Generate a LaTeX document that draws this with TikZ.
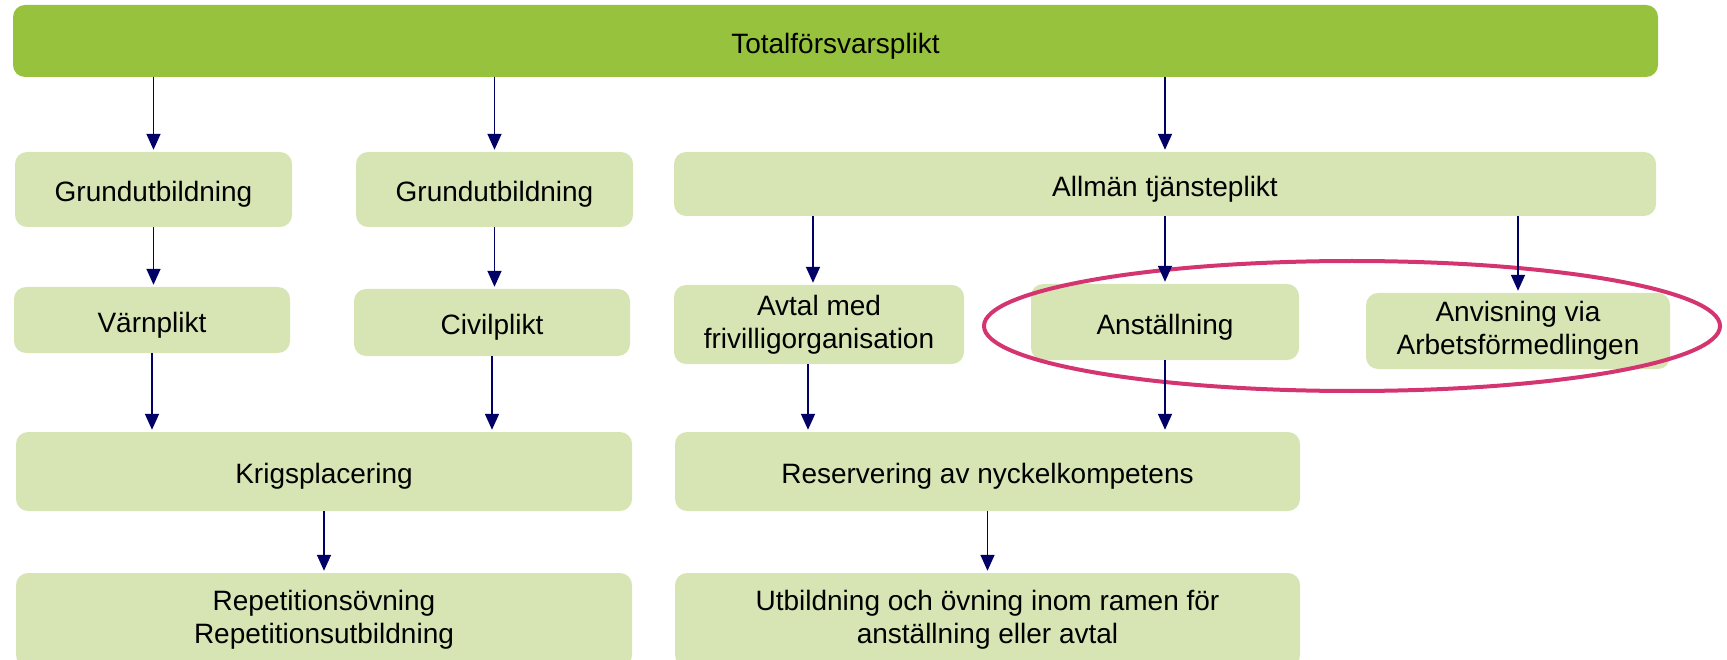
\documentclass[tikz,border=0pt]{standalone}
\usepackage{fontspec}
\setmainfont{Liberation Sans}
\usetikzlibrary{arrows.meta}
\definecolor{morkgron}{RGB}{151,194,62}
\definecolor{ljusgron}{RGB}{214,229,179}
\definecolor{marin}{RGB}{0,0,102}
\definecolor{rosa}{RGB}{212,52,112}
\tikzset{
    ruta/.style={fill=ljusgron, rounded corners=12pt, align=center, inner sep=0pt,
        font=\fontsize{28}{33}\selectfont, execute at begin node={\rule{0pt}{30pt}}},
    pil/.style={draw=marin, line width=1.6pt, -{Triangle[length=16pt,width=14pt]}, shorten >=2pt},
}
\begin{document}
\begin{tikzpicture}[x=1pt,y=-1pt]
            \useasboundingbox (0,0) rectangle (1727,660);
            \node[ruta, fill=morkgron, minimum width=1645pt, minimum height=72pt] (totalt) at (835.5,41) {Totalförsvarsplikt};
            \node[ruta, minimum width=277pt, minimum height=75pt] (grund1) at (153.5,189.5) {Grundutbildning};
            \node[ruta, minimum width=277pt, minimum height=75pt] (grund2) at (494.5,189.5) {Grundutbildning};
            \node[ruta, minimum width=982pt, minimum height=64pt] (allman) at (1165,184) {Allmän tjänsteplikt};
            \node[ruta, minimum width=276pt, minimum height=66pt] (varn) at (152,320) {Värnplikt};
            \node[ruta, minimum width=276pt, minimum height=67pt] (civil) at (492,322.5) {Civilplikt};
            \node[ruta, minimum width=290pt, minimum height=79pt] (avtal) at (819,324.5) {Avtal med\\frivilligorganisation};
            \node[ruta, minimum width=268pt, minimum height=76pt] (anst) at (1165,322) {Anställning};
            \node[ruta, minimum width=304pt, minimum height=76pt] (anvis) at (1518,331) {Anvisning via\\Arbetsförmedlingen};
            \node[ruta, minimum width=616pt, minimum height=79pt] (krig) at (324,471.5) {Krigsplacering};
            \node[ruta, minimum width=625pt, minimum height=79pt] (reserv) at (987.5,471.5) {Reservering av nyckelkompetens};
            \node[ruta, minimum width=616pt, minimum height=94pt] (repet) at (324,620) {Repetitionsövning\\Repetitionsutbildning};
            \node[ruta, minimum width=625pt, minimum height=94pt] (utb) at (987.5,620) {Utbildning och övning inom ramen för\\anställning eller avtal};
            \draw[rosa, line width=4pt] (1352,326) ellipse [x radius=368, y radius=65];
            \draw[pil] (totalt.south -| grund1) -- (grund1);
            \draw[pil] (totalt.south -| grund2) -- (grund2);
            \draw[pil] (totalt.south -| allman) -- (allman);
            \draw[pil] (grund1) -- (grund1 |- varn.north);
            \draw[pil] (grund2) -- (grund2 |- civil.north);
            \draw[pil] ([xshift=-6pt]allman.south -| avtal) -- ([xshift=-6pt]avtal.north);
            \draw[pil] (allman.south -| anst) -- (anst);
            \draw[pil] (allman.south -| anvis) -- (anvis);
            \draw[pil] (varn) -- (varn |- krig.north);
            \draw[pil] (civil) -- (civil |- krig.north);
            \draw[pil] ([xshift=-11pt]avtal.south) -- ([xshift=-11pt]avtal.south |- reserv.north);
            \draw[pil] (anst) -- (anst |- reserv.north);
            \draw[pil] (krig) -- (repet);
            \draw[pil] (reserv) -- (utb);
        \end{tikzpicture}
\end{document}
